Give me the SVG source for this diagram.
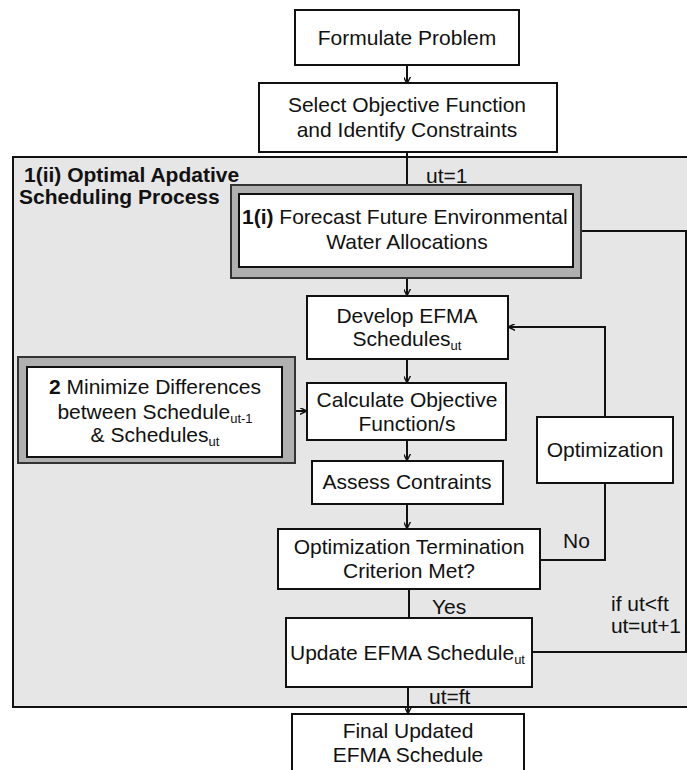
<svg xmlns="http://www.w3.org/2000/svg" width="687" height="770" viewBox="0 0 687 770">
<defs>
<style>
text{font-family:"Liberation Sans",Arial,sans-serif;font-size:21px;fill:#111;}
.c{text-anchor:middle;}
.b{font-weight:bold;}
.sub{font-size:13px;}
.box{fill:#fff;stroke:#111;stroke-width:2;}
.frame{fill:#b0b0b0;stroke:#333;stroke-width:2;}
.ln{fill:none;stroke:#111;stroke-width:2;}
.ar{fill:none;stroke:#111;stroke-width:2;marker-end:url(#ah);}
</style>
<marker id="ah" viewBox="0 0 10 10" refX="9" refY="5" markerWidth="7" markerHeight="7" markerUnits="userSpaceOnUse" orient="auto">
<path d="M0,0 L10,5 L0,10" fill="none" stroke="#111" stroke-width="2"/>
</marker>
</defs>
<rect width="687" height="770" fill="#fff"/>
<g id="process">
<rect x="13" y="157" width="690" height="550" fill="#e6e6e6" stroke="#111" stroke-width="2"/>
<text class="b" x="24" y="182">1(ii) Optimal Apdative</text>
<text class="b" x="19" y="204">Scheduling Process</text>
</g>
<g id="connectors">
<line class="ar" x1="407" y1="65" x2="407" y2="83"/>
<line class="ar" x1="407" y1="152" x2="407" y2="193"/>
<line class="ar" x1="407" y1="267" x2="407" y2="295"/>
<line class="ar" x1="407" y1="359" x2="407" y2="382"/>
<line class="ar" x1="282" y1="411" x2="306" y2="411"/>
<line class="ar" x1="407" y1="440" x2="407" y2="460"/>
<line class="ar" x1="407" y1="504" x2="407" y2="528"/>
<polyline class="ar" points="605,417 605,327 509,327"/>
<polyline class="ln" points="605,483 605,560 540,560"/>
<line class="ln" x1="409" y1="589" x2="409" y2="618"/>
<polyline class="ar" points="532,652 686,652 686,231 574,231"/>
<line class="ar" x1="408" y1="687" x2="408" y2="713"/>
<text x="426" y="183">ut=1</text>
<text x="563" y="548">No</text>
<text x="432" y="614">Yes</text>
<text x="611" y="611">if ut&lt;ft</text>
<text x="611" y="633" textLength="70">ut=ut+1</text>
<text x="429" y="704">ut=ft</text>
</g>
<g id="formulate">
<rect class="box" x="295" y="10" width="224" height="55"/>
<text class="c" x="407" y="45">Formulate Problem</text>
</g>
<g id="select">
<rect class="box" x="259" y="83" width="298" height="69"/>
<text class="c" x="407" y="112">Select Objective Function</text>
<text class="c" x="407" y="137">and Identify Constraints</text>
</g>
<g id="forecast">
<rect class="frame" x="231" y="185" width="350" height="93"/>
<rect class="box" x="239" y="194" width="334" height="73"/>
<text x="242" y="224"><tspan class="b">1(i)</tspan> Forecast Future Environmental</text>
<text class="c" x="407" y="249">Water Allocations</text>
</g>
<g id="develop">
<rect class="box" x="307" y="296" width="201" height="63"/>
<text class="c" x="407" y="323">Develop EFMA</text>
<text class="c" x="407" y="346">Schedules<tspan class="sub" dy="4">ut</tspan></text>
</g>
<g id="minimize">
<rect class="frame" x="18" y="357" width="277" height="106"/>
<rect class="box" x="27" y="367" width="255" height="90"/>
<text class="c" x="155" y="394"><tspan class="b">2</tspan> Minimize Differences</text>
<text class="c" x="155" y="419">between Schedule<tspan class="sub" dy="4">ut-1</tspan></text>
<text class="c" x="155" y="442">&amp; Schedules<tspan class="sub" dy="4">ut</tspan></text>
</g>
<g id="calculate">
<rect class="box" x="307" y="383" width="199" height="57"/>
<text class="c" x="407" y="407">Calculate Objective</text>
<text class="c" x="407" y="431">Function/s</text>
</g>
<g id="assess">
<rect class="box" x="312" y="461" width="191" height="43"/>
<text class="c" x="407" y="489">Assess Contraints</text>
</g>
<g id="optimization">
<rect class="box" x="537" y="417" width="136" height="66"/>
<text class="c" x="605" y="457">Optimization</text>
</g>
<g id="termination">
<rect class="box" x="278" y="529" width="262" height="60"/>
<text class="c" x="409" y="554">Optimization Termination</text>
<text class="c" x="409" y="578">Criterion Met?</text>
</g>
<g id="update">
<rect class="box" x="286" y="618" width="246" height="69"/>
<text x="290" y="660">Update EFMA Schedule<tspan class="sub" dy="4">ut</tspan></text>
</g>
<g id="final">
<rect class="box" x="292" y="714" width="232" height="70"/>
<text class="c" x="408" y="738">Final Updated</text>
<text class="c" x="408" y="762">EFMA Schedule</text>
</g>
</svg>
